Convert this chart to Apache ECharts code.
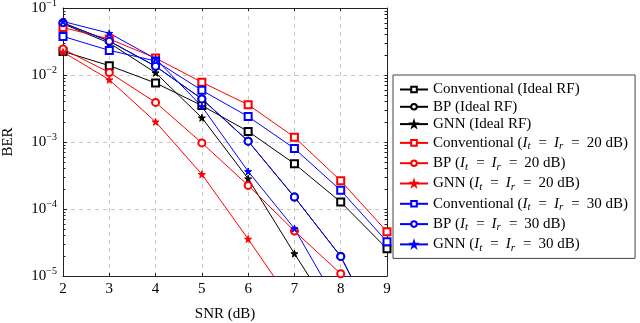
<!DOCTYPE html>
<html>
<head>
<meta charset="utf-8">
<script src="https://cdn.jsdelivr.net/npm/echarts@6/dist/echarts.min.js"></script>
<style>
  html, body { margin: 0; padding: 0; background: #fff; }
  #chart { width: 640px; height: 323px; }
</style>
</head>
<body>
<div id="chart"></div>
<script>
const snr = [2, 3, 4, 5, 6, 7, 8, 9]

// BER
const convIdeal = [0.0225, 0.0138, 0.0076, 0.0035, 0.00144, 0.000474, 0.000127, 2.55e-5]
const bpIdeal = [0.060, 0.032, 0.0135, 0.0044, 0.00103, 0.000151, 1.96e-5, 8.7e-7]
const gnnIdeal = [0.058, 0.030, 0.0108, 0.0023, 0.000283, 2.16e-5, 1.8e-6]
const conv20 = [0.051, 0.0345, 0.0179, 0.0078, 0.0036, 0.00118, 0.000264, 4.58e-5]
const bp20 = [0.0244, 0.0109, 0.0039, 0.00097, 0.000225, 4.7e-5, 1.08e-5]
const gnn20 = [0.022, 0.0085, 0.002, 0.00033, 3.56e-5, 3.5e-6]
const conv30 = [0.0377, 0.0233, 0.0162, 0.0059, 0.0024, 0.0008, 0.00019, 3.25e-5]
const bp30 = [0.060, 0.032, 0.0135, 0.0044, 0.00103, 0.000151, 1.96e-5, 8.7e-7]
const gnn30 = [0.063, 0.042, 0.0175, 0.0034, 0.000364, 5.1e-5, 3.2e-6]

const decades = [1e-5, 1e-4, 1e-3, 1e-2, 1e-1]

const font = '"Liberation Serif", "DejaVu Serif", serif'
const star = 'path://M50,0 L61,35 L98,35 L68,57 L79,91 L50,70 L21,91 L32,57 L2,35 L39,35 Z'

// minor tick positions for the log axis
const logTicks = []
for (let k = -5; k < -1; k++) {
  for (let m = 2; m <= 9; m++) logTicks.push(+(m * Math.pow(10, k)).toPrecision(3))
}

const pair = (ys) => ys.map((y, i) => [snr[i], y])

function mk(name, data, color, symbol) {
  return {
    name,
    type: 'line',
    data: pair(data),
    symbol: symbol === 'star' ? star : symbol,
    symbolSize: 7,
    showAllSymbol: true,
    lineStyle: { color, width: 1 },
    itemStyle: { color, borderColor: color, borderWidth: 1 },
    emphasis: { disabled: true },
    z: 3,
  }
}

const sub = (s) => `{i|I}{s|${s}}`
const irr = (v) => `{n|(}${sub('t')}{q|=}${sub('r')}{q|=}{n|${v} dB)}`

const series = [
  mk('Conventional (Ideal RF)', convIdeal, '#000', 'emptyRect'),
  mk('BP (Ideal RF)', bpIdeal, '#000', 'emptyCircle'),
  mk('GNN (Ideal RF)', gnnIdeal, '#000', 'star'),
  mk('Conventional 20', conv20, '#ff0000', 'emptyRect'),
  mk('BP 20', bp20, '#ff0000', 'emptyCircle'),
  mk('GNN 20', gnn20, '#ff0000', 'star'),
  mk('Conventional 30', conv30, '#0000ff', 'emptyRect'),
  mk('BP 30', bp30, '#0000ff', 'emptyCircle'),
  mk('GNN 30', gnn30, '#0000ff', 'star'),
]

const legendText = {
  'Conventional (Ideal RF)': '{n|Conventional (Ideal RF)}',
  'BP (Ideal RF)': '{n|BP (Ideal RF)}',
  'GNN (Ideal RF)': '{n|GNN (Ideal RF)}',
  'Conventional 20': '{n|Conventional }' + irr(20),
  'BP 20': '{n|BP }' + irr(20),
  'GNN 20': '{n|GNN }' + irr(20),
  'Conventional 30': '{n|Conventional }' + irr(30),
  'BP 30': '{n|BP }' + irr(30),
  'GNN 30': '{n|GNN }' + irr(30),
}

const tickLine = { color: '#222', width: 1 }
const dashGrid = { color: '#c8c8c8', type: [4, 4], width: 1 }

const chart = echarts.init(document.getElementById('chart'))

chart.setOption({
  animation: false,
  backgroundColor: '#fff',
  textStyle: { fontFamily: font },
  grid: { left: 63, top: 8, width: 324, height: 268, containLabel: false, outerBoundsMode: 'none' },
  legend: {
    orient: 'vertical',
    left: 393,
    top: 75,
    padding: [7, 7, 5, 6],
    itemWidth: 28,
    itemHeight: 7,
    itemGap: 2.3,
    backgroundColor: '#fff',
    borderColor: '#444',
    borderWidth: 1,
    borderRadius: 0,
    data: series.map((s) => s.name),
    formatter: (name) => legendText[name],
    textStyle: {
      fontFamily: font,
      fontSize: 15,
      lineHeight: 15,
      height: 15,
      color: '#000',
      rich: {
        n: { fontFamily: font, fontSize: 15, lineHeight: 15, color: '#000' },
        q: { fontFamily: font, fontSize: 15, lineHeight: 15, color: '#000', padding: [0, 7, 0, 7] },
        i: { fontFamily: font, fontSize: 15, lineHeight: 15, fontStyle: 'italic', color: '#000' },
        s: { fontFamily: font, fontSize: 11, lineHeight: 15, fontStyle: 'italic', color: '#000', padding: [7, 1, 0, 0] },
      },
    },
  },
  xAxis: [
    {
      type: 'value',
      min: 2,
      max: 9,
      interval: 1,
      name: 'SNR (dB)',
      nameLocation: 'middle',
      nameGap: 31,
      nameTextStyle: { fontFamily: font, fontSize: 15, color: '#000' },
      axisLine: { show: true, lineStyle: tickLine },
      axisTick: { show: true, inside: true, length: 3, lineStyle: tickLine },
      axisLabel: { fontFamily: font, fontSize: 15, color: '#000', margin: 6 },
      splitLine: { show: true, lineStyle: dashGrid },
    },
    {
      type: 'value',
      position: 'top',
      min: 2,
      max: 9,
      interval: 1,
      axisLine: { show: true, onZero: false, lineStyle: tickLine },
      axisTick: { show: true, inside: true, length: 3, lineStyle: tickLine },
      axisLabel: { show: false },
      splitLine: { show: false },
    },
  ],
  yAxis: [
    {
      type: 'log',
      logBase: 10,
      min: 1e-5,
      max: 1e-1,
      name: 'BER',
      nameLocation: 'middle',
      nameGap: 47,
      nameTextStyle: { fontFamily: font, fontSize: 15, color: '#000' },
      axisLine: { show: true, lineStyle: tickLine },
      axisTick: { show: true, inside: true, length: 4, lineStyle: tickLine },
      axisLabel: {
        margin: 6,
        formatter: (v) => `{b|10}{e|\u2212${Math.round(-Math.log10(v))}}`,
        rich: {
          b: { fontFamily: font, fontSize: 15, color: '#000' },
          e: { fontFamily: font, fontSize: 10, color: '#000', padding: [0, 0, 9, 0] },
        },
      },
      splitLine: { show: true, lineStyle: dashGrid },
    },
    {
      // minor ticks, left side
      type: 'log',
      logBase: 10,
      min: 1e-5,
      max: 1e-1,
      position: 'left',
      axisLine: { show: false },
      axisTick: { show: true, inside: true, length: 2.5, customValues: logTicks, lineStyle: tickLine },
      axisLabel: { show: false },
      splitLine: { show: false },
    },
    {
      // frame + ticks, right side
      type: 'log',
      logBase: 10,
      min: 1e-5,
      max: 1e-1,
      position: 'right',
      axisLine: { show: true, lineStyle: tickLine },
      axisTick: { show: true, inside: true, length: 2.5, customValues: logTicks.concat(decades), lineStyle: tickLine },
      axisLabel: { show: false },
      splitLine: { show: false },
    },
  ],
  series,
})

window.addEventListener('resize', () => chart.resize())
</script>
</body>
</html>
